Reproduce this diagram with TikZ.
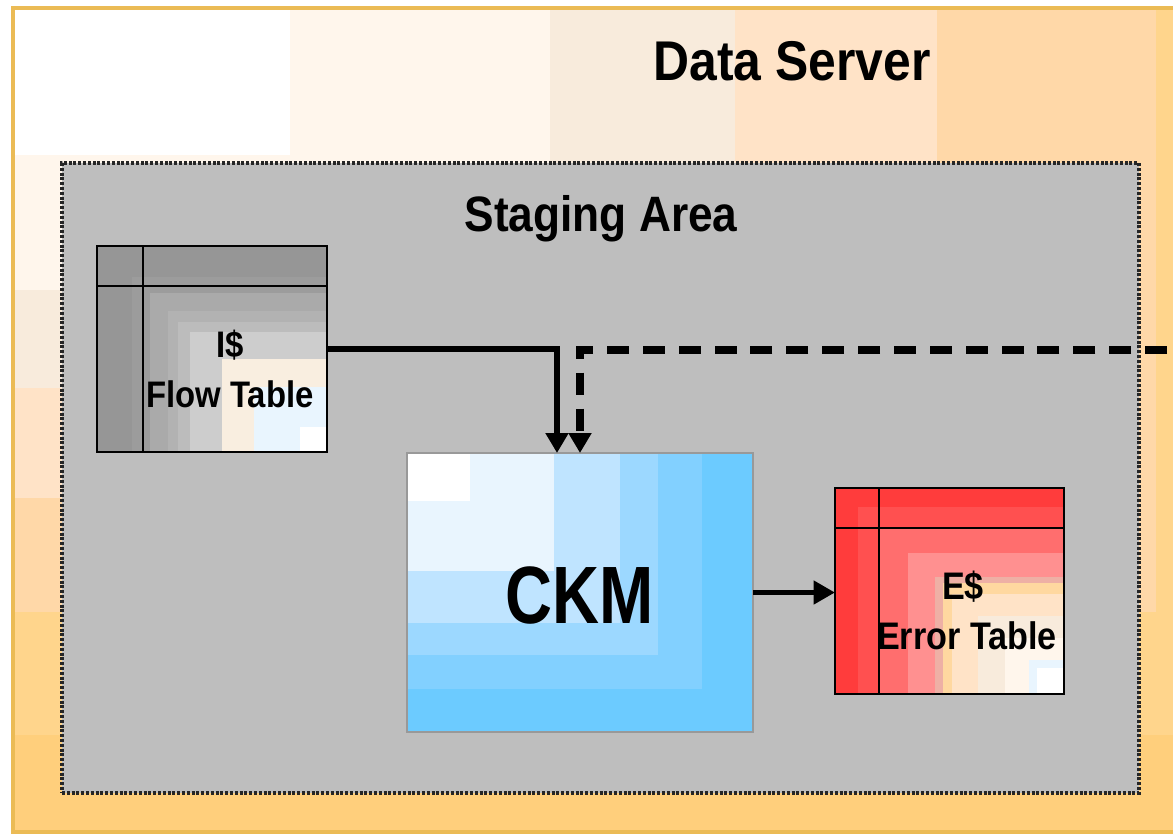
\documentclass[tikz,border=0pt]{standalone}
\usepackage{fontspec}
\setmainfont{Liberation Sans}
\newfontfamily\labelfont[FakeStretch=0.89]{Liberation Sans Bold}
\newfontfamily\ckmfont[FakeStretch=0.80]{Liberation Sans Bold}
\usetikzlibrary{arrows.meta,fit}
\definecolor{frameGold}{HTML}{EBBB55}
\definecolor{stageGrey}{HTML}{BEBEBE}
\tikzset{
  x=0.75pt,y=-0.75pt,
  band/.code={\definecolor{tmpband}{HTML}{#1}\tikzset{fill=tmpband,draw=none}},
  stage/.style={fit={(62,163)(1139,793)},inner sep=0pt,outer sep=0pt,draw=black!85,fill=stageGrey,line width=2.4pt,dash pattern=on 2.2pt off 1.4pt},
  tablebox/.style={inner sep=0pt,outer sep=0pt,draw=black,line width=1.1pt},
  ckmbox/.style={inner sep=0pt,outer sep=0pt,draw=black!40,line width=1pt},
  title/.style={anchor=base,inner sep=0pt,text=black,font=\labelfont\fontsize{#1}{#1}\selectfont},
  tablelabel/.style={anchor=center,inner sep=0pt,align=center,text=black,font=\labelfont\fontsize{#1}{37.5}\selectfont},
  flowline/.style={line width=4.5pt,line cap=butt,-{Triangle[length=15pt,width=16.5pt]}},
  rejectline/.style={line width=5.6pt,line cap=butt,dash pattern=on 16.5pt off 10.4pt,-{Triangle[length=15pt,width=16.5pt]}},
  outline/.style={line width=4pt,-{Triangle[length=16pt,width=17pt]}},
}
\begin{document}
\begin{tikzpicture}
\useasboundingbox (0,0) rectangle (1173,833);
% outer nested bands of the Data Server
\path[band=FFCF7C] (13,8) rectangle (1173,833);
\path[band=FFD58C] (13,8) rectangle (1173,735);
\path[band=FFD8A8] (13,8) rectangle (1156,612);
\path[band=FFE3C7] (13,8) rectangle (937,498);
\path[band=F8EBDC] (13,8) rectangle (735,388);
\path[band=FFF6EC] (13,8) rectangle (550,290);
\path[band=FFFFFF] (13,8) rectangle (290,155);
\draw[frameGold,line width=2.7pt] (1174,8) -- (13,8) -- (13,832) -- (1174,832);
\node[title=42] (server) at (792,80) {Data Server};
% staging area
\node[stage] (staging) {};
\node[title=37.3] (stagingtitle) at (601,231) {Staging Area};
% flow table bands
\path[band=969696] (97,246) rectangle (327,452);
\path[band=9C9C9C] (132,277) rectangle (327,452);
\path[band=AAAAAA] (150,293) rectangle (327,452);
\path[band=B2B2B2] (168,311) rectangle (327,452);
\path[band=BCBCBC] (178,322) rectangle (327,452);
\path[band=CDCDCD] (190,332) rectangle (327,452);
\path[band=F9EEE0] (222,359) rectangle (327,452);
\path[band=E9F5FE] (254,387) rectangle (327,452);
\path[band=FFFFFF] (300,427) rectangle (327,452);
\node[tablebox,fit={(97,246)(327,452)}] (flow) {};
\draw[black,line width=1.1pt] (143,246) -- (143,452) (97,286) -- (327,286);
\node[tablelabel=27.7] (flowlabel) at (230,368.5) {I\$\\Flow Table};
% CKM bands
\path[band=6CCBFF] (407,453) rectangle (753,732);
\path[band=82D0FF] (407,453) rectangle (702,689);
\path[band=9CD8FF] (407,453) rectangle (658,655);
\path[band=BFE4FF] (407,453) rectangle (620,623);
\path[band=E9F5FE] (407,453) rectangle (554,571);
\path[band=FFFFFF] (407,453) rectangle (470,501);
\node[ckmbox,fit={(407,453)(753,732)}] (ckm) {};
\node[anchor=base,inner sep=0pt,font=\ckmfont\fontsize{61}{61}\selectfont] (ckmlabel) at (580,623) {CKM};
% error table bands
\path[band=FF3C3C] (835,488) rectangle (1065,694);
\path[band=FF5050] (858,507) rectangle (1065,694);
\path[band=FF6E6E] (880,528) rectangle (1065,694);
\path[band=FF9090] (908,553) rectangle (1065,694);
\path[band=EEB0A5] (935,577) rectangle (1065,694);
\path[band=FFD8A0] (943,583) rectangle (1065,694);
\path[band=FFE3C7] (952,594) rectangle (1065,694);
\path[band=F8EBDC] (978,616) rectangle (1065,694);
\path[band=FFF6EC] (1005,638) rectangle (1065,694);
\path[band=E9F5FE] (1029,660) rectangle (1065,694);
\path[band=FFFFFF] (1037,668) rectangle (1065,694);
\node[tablebox,fit={(835,488)(1064,694)}] (error) {};
\draw[black,line width=1.1pt] (879,488) -- (879,694) (835,528) -- (1064,528);
\node[tablelabel=28.8] (errorlabel) at (967,610.5) {E\$\kern 6pt\\Error Table};
% connectors
\coordinate (reject) at (1167,350);
\draw[flowline] (flow.east) -| ([xshift=-17.25pt]ckm.north);
\draw[rejectline] (reject) -| (ckm.north);
\draw[outline] (ckm.east) -- (ckm.east -| error.west);
\end{tikzpicture}
\end{document}
